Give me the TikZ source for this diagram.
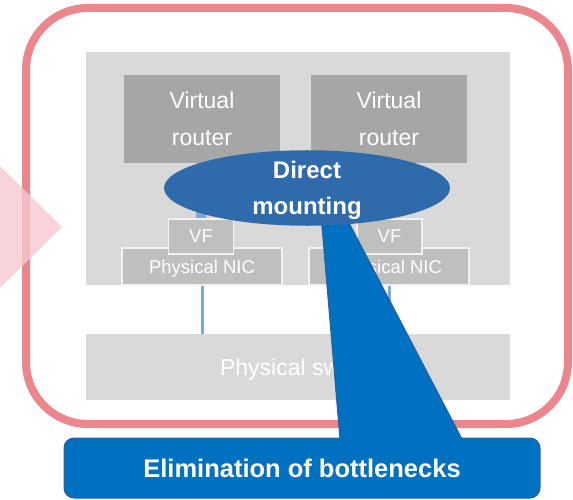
\documentclass[tikz,border=0pt]{standalone}
\usepackage{fontspec}
\setmainfont{Liberation Sans}
\usetikzlibrary{shapes.geometric}
\definecolor{framepink}{HTML}{EB868D}
\definecolor{chevronpink}{HTML}{F6C8CF}
\definecolor{hostgray}{HTML}{D9D9D9}
\definecolor{routergray}{HTML}{A6A6A6}
\definecolor{nicgray}{HTML}{BFBFBF}
\definecolor{nicedge}{HTML}{F2F2F2}
\definecolor{linkblue}{HTML}{7DA7D9}
\definecolor{mountblue}{HTML}{2F6BAB}
\definecolor{calloutblue}{HTML}{0070C0}
\definecolor{calloutedge}{HTML}{2E5E9E}
\tikzset{
  box/.style={inner sep=0pt,text depth=0pt,text=white,align=center},
  greybox/.style={box,fill=hostgray,minimum width=424pt},
  routerbox/.style={box,fill=routergray,minimum width=156pt,minimum height=88pt,
    font=\fontsize{23}{37}\selectfont},
  nicbox/.style={box,fill=nicgray,draw=nicedge,line width=2pt,minimum width=160pt,
    minimum height=37pt,font=\fontsize{18.5}{22}\selectfont},
  vfbox/.style={nicbox,minimum width=65pt,minimum height=35pt,line width=1.5pt},
  mountell/.style={box,ellipse,fill=mountblue,minimum width=286pt,minimum height=74pt,
    font=\fontsize{24}{36}\selectfont\bfseries},
  calloutbox/.style={box,fill=calloutblue,draw=calloutedge,line width=1pt,
    rounded corners=10pt,minimum width=476pt,minimum height=60pt,
    font=\fontsize{25.5}{30}\selectfont\bfseries},
  mountline/.style={linkblue,line width=10pt},
  uplink/.style={linkblue,line width=3pt}
}
\begin{document}
\begin{tikzpicture}[x=1pt,y=-1pt]
\useasboundingbox (0,0) rectangle (573,500);
% server frame and chevron
\draw[framepink,line width=8pt,rounded corners=62pt] (26,8) rectangle (568,424);
\fill[chevronpink,fill opacity=.8] (0,166) -- (62,227) -- (0,288) -- cycle;
\node[greybox,minimum height=233pt] (host) at (298,168.5) {};
\foreach \n/\x in {1/202,2/389}{
  \node[routerbox] (vr\n) at (\x,119) {Virtual\\router};
  \node[nicbox] (nic\n) at (\x,266.5) {Physical NIC};
}
\node[greybox,minimum height=66pt,font=\fontsize{23}{28}\selectfont] (sw) at (298,367) {Physical switch};
\foreach \n/\x in {1/201,2/389.5}{
  \draw[mountline] (vr\n.south) -- (\x,219);
  \node[vfbox] (vf\n) at (\x,236.5) {VF};
  \draw[uplink] (nic\n.south) -- (sw.north -| nic\n.south);
}
% callout
\node[calloutbox] (elim) at (302,468) {Elimination of bottlenecks};
\coordinate (tl) at (321,215);
\coordinate (tr) at (345,215);
\coordinate (bl) at (340,439);
\coordinate (br) at (462,439);
\fill[calloutblue] (tl) -- (bl) -- (br) -- (tr) -- cycle;
\draw[calloutedge,line width=1pt] (tl) -- (bl) (tr) -- (br);
\node[mountell] (dm) at (307,188) {Direct\\mounting};
\end{tikzpicture}
\end{document}
